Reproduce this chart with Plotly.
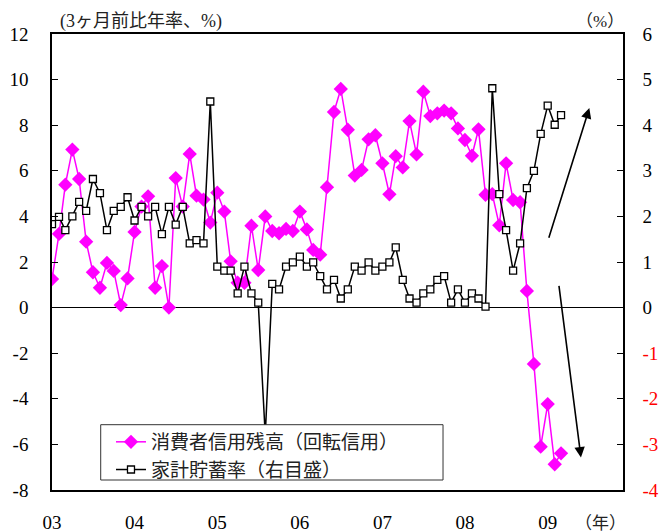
import pandas as pd
import plotly.graph_objects as go

# monthly, 2003/01 - 2009/03
months = pd.date_range("2003-01-01", periods=75, freq="MS")

# consumer credit outstanding (revolving), 3-month annualised % change (left axis)
credit = [
    1.25, 3.23, 5.39, 6.93, 5.64, 2.89, 1.55, 0.87, 1.96, 1.61, 0.11, 1.28,
    3.32, 4.43, 4.88, 0.87, 1.82, 0.00, 5.68, 4.43, 6.74, 4.91, 4.74, 3.73,
    5.04, 4.21, 2.03, 1.09, 1.09, 3.59, 1.65, 4.00, 3.36, 3.26, 3.45, 3.36,
    4.21, 3.43, 2.53, 2.32, 5.28, 8.58, 9.59, 7.80, 5.79, 6.04, 7.38, 7.56,
    6.33, 4.97, 6.64, 6.15, 8.18, 6.72, 9.47, 8.40, 8.52, 8.64, 8.52, 7.86,
    7.35, 6.66, 7.82, 4.95, 4.98, 3.61, 6.33, 4.72, 4.62, 0.73, -2.47, -6.10,
    -4.23, -6.87, -6.39,
]

# household saving rate, % (right axis)
saving = [
    1.83, 1.99, 1.70, 2.00, 2.32, 2.12, 2.82, 2.51, 1.70, 2.12, 2.21, 2.42,
    1.91, 2.21, 2.00, 2.21, 1.61, 2.21, 1.82, 2.21, 1.41, 1.48, 1.41, 4.52,
    0.90, 0.81, 0.81, 0.31, 0.90, 0.31, 0.11, -2.80, 0.52, 0.40, 0.90, 0.99,
    1.12, 0.90, 0.99, 0.69, 0.40, 0.61, 0.20, 0.40, 0.90, 0.81, 0.99, 0.81,
    0.90, 0.99, 1.32, 0.61, 0.20, 0.11, 0.31, 0.40, 0.61, 0.69, 0.11, 0.40,
    0.11, 0.31, 0.20, 0.02, 4.81, 2.49, 1.70, 0.81, 1.41, 2.62, 3.00, 3.81,
    4.43, 4.01, 4.22,
]

year_ticks = [f"{y}-01-01" for y in range(2003, 2010)]
year_labels = ["03", "04", "05", "06", "07", "08", "09"]
left_ticks = list(range(-8, 13, 2))
right_ticks = list(range(-4, 7))
right_labels = [f'<span style="color:red">{v}</span>' if v < 0 else str(v) for v in right_ticks]

FONT = '"Liberation Serif", "Times New Roman", "Noto Sans CJK JP", serif'

fig = go.Figure()
fig.add_trace(
    go.Scatter(
        x=months,
        y=credit,
        name="消費者信用残高（回転信用）",
        mode="lines+markers",
        line=dict(color="#FF00FF", width=1.5),
        marker=dict(symbol="diamond", size=11, color="#FF00FF"),
        legendgroup="a",
    )
)
fig.add_trace(
    go.Scatter(
        x=months,
        y=saving,
        name="家計貯蓄率（右目盛）",
        mode="lines+markers",
        yaxis="y2",
        line=dict(color="black", width=1.5),
        marker=dict(symbol="square", size=7, color="white", line=dict(color="black", width=1.3)),
        legendgroup="b",
    )
)

# trend arrows
arrows = [
    ("2009-07-04", 8.75, "2009-01-04", 3.0),
    ("2009-05-28", -6.57, "2009-02-19", 1.02),
]
for hx, hy, tx, ty in arrows:
    fig.add_annotation(
        x=hx, y=hy, ax=tx, ay=ty, xref="x", yref="y", axref="x", ayref="y",
        text="", showarrow=True, arrowhead=2, arrowsize=1.3, arrowwidth=1.6,
        arrowcolor="black",
    )

# legend frame (white box over the lines)
fig.add_shape(
    type="rect", xref="paper", yref="paper",
    x0=0.0853, x1=0.6848, y0=0.0219, y1=0.1432,
    fillcolor="white", line=dict(color="#333", width=1), layer="above",
)

fig.add_annotation(x=0.0105, y=1.028, xref="paper", yref="paper", xanchor="left",
                   yanchor="middle", text="(3ヶ月前比年率、%)", showarrow=False,
                   font=dict(size=18, color="#222"))
fig.add_annotation(x=0.96, y=1.028, xref="paper", yref="paper", xanchor="center",
                   yanchor="middle", text="（%）", showarrow=False,
                   font=dict(size=17, color="#222"))
fig.add_annotation(x=0.96, y=-0.074, xref="paper", yref="paper", xanchor="center",
                   yanchor="middle", text="（年）", showarrow=False,
                   font=dict(size=17, color="#222"))

fig.update_layout(
    width=669,
    height=532,
    margin=dict(l=44, r=54, t=26, b=50),
    paper_bgcolor="white",
    plot_bgcolor="white",
    font=dict(family=FONT, size=19, color="black"),
    xaxis=dict(
        type="date",
        range=["2003-01-01", "2009-11-30"],
        tickvals=year_ticks,
        ticktext=year_labels,
        ticks="",
        showgrid=False,
        showline=True,
        mirror=True,
        linecolor="black",
        linewidth=1.5,
        ticklabelstandoff=14,
        automargin=False,
    ),
    yaxis=dict(
        range=[-8, 12],
        tickvals=left_ticks,
        ticktext=[str(v) for v in left_ticks],
        ticks="inside",
        ticklen=6,
        tickcolor="black",
        showgrid=False,
        showline=True,
        linecolor="black",
        linewidth=1.5,
        zeroline=True,
        zerolinecolor="black",
        zerolinewidth=1.3,
        ticklabelstandoff=18,
        automargin=False,
    ),
    yaxis2=dict(
        range=[-4, 6],
        overlaying="y",
        side="right",
        tickvals=right_ticks,
        ticktext=right_labels,
        ticks="inside",
        ticklen=6,
        tickcolor="black",
        showgrid=False,
        showline=True,
        linecolor="black",
        linewidth=1.5,
        zeroline=False,
        ticklabelstandoff=14,
        automargin=False,
    ),
    legend=dict(
        x=0.1033,
        y=0.147,
        xanchor="left",
        yanchor="top",
        bgcolor="rgba(0,0,0,0)",
        borderwidth=0,
        font=dict(size=19, color="#222"),
        tracegroupgap=5,
        traceorder="normal",
    ),
    showlegend=True,
)

fig.write_html("out.html")
